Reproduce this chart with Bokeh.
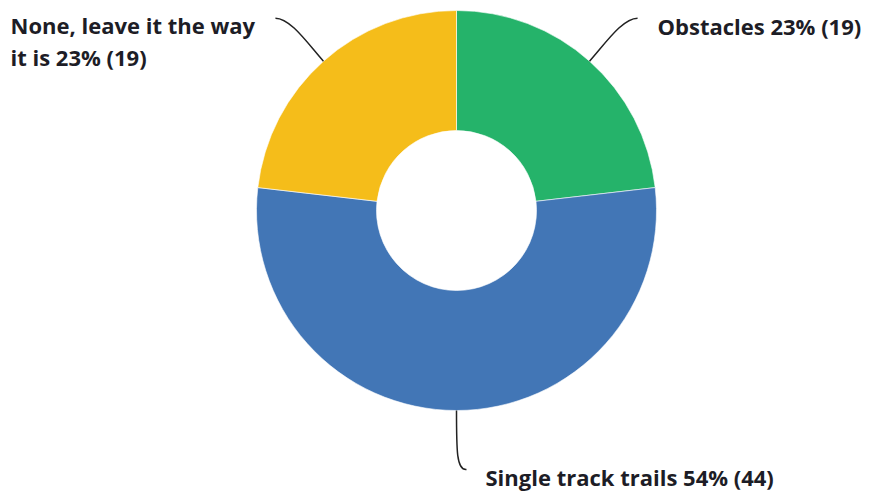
import math
from bokeh.plotting import figure
from bokeh.models import Range1d, ColumnDataSource
from bokeh.core.properties import value
from bokeh.embed import file_html
from bokeh.resources import INLINE

# ---- data ----
categories = ["Obstacles", "Single track trails", "None, leave it the way it is"]
counts = [19, 44, 19]
percents = [23, 54, 23]
colors = ["#25b36a", "#4276b6", "#f5bd1a"]
label_lines = [
    ["Obstacles 23% (19)"],
    ["Single track trails 54% (44)"],
    ["None, leave it the way", "it is 23% (19)"],
]

# ---- layout (1 data unit = 1 px; y measured upward from image bottom) ----
W, H = 873, 491
IMG_H = 491
cx, cy = 456, IMG_H - 210
r_out, r_in = 200, 80

p = figure(width=W, height=H, output_backend="svg", toolbar_location=None,
           x_range=Range1d(0, W), y_range=Range1d(IMG_H - H, IMG_H),
           x_axis_location=None, y_axis_location=None, min_border=0,
           background_fill_color="white", border_fill_color="white")
p.outline_line_color = None
p.grid.visible = False

total = sum(counts)
starts, ends, mids = [], [], []
acc = 0
for c in counts:
    a0 = acc / total * 2 * math.pi
    acc += c
    a1 = acc / total * 2 * math.pi
    starts.append(math.pi / 2 - a0)
    ends.append(math.pi / 2 - a1)
    mids.append((a0 + a1) / 2)  # clockwise from top

src = ColumnDataSource(dict(start=starts, end=ends, color=colors, cat=categories))
p.annular_wedge(x=cx, y=cy, inner_radius=r_in, outer_radius=r_out,
                start_angle="start", end_angle="end", direction="clock",
                fill_color="color", line_color="white", line_width=0.6, source=src)

font = value("Open Sans")
fs = "22px"
txt_color = "#1d1d26"

for i, m in enumerate(mids):
    ex = cx + r_out * math.sin(m)
    ey = cy + r_out * math.cos(m)
    if abs(math.sin(m)) < 0.2:  # bottom slice: go down, hook right
        x1, y1 = ex + 10, ey - 59
        c0 = (ex, ey - 40)
        c1 = (ex, y1 - 1)
        p.bezier(x0=[ex], y0=[ey], x1=[x1], y1=[y1], cx0=[c0[0]], cy0=[c0[1]],
                 cx1=[c1[0]], cy1=[c1[1]], line_color="#222222", line_width=1.5)
        p.text(x=[x1 + 19], y=[y1 - 7], text=label_lines[i], text_font=font,
               text_font_size=fs, text_font_style="bold", text_color=txt_color,
               text_baseline="middle", text_align="left")
    else:
        s = 1 if math.sin(m) > 0 else -1
        x1, y1 = ex + s * 48, ey + 43
        c0 = (ex + s * 16, ey + 18)
        c1 = (ex + s * 33, y1)
        p.bezier(x0=[ex], y0=[ey], x1=[x1], y1=[y1], cx0=[c0[0]], cy0=[c0[1]],
                 cx1=[c1[0]], cy1=[c1[1]], line_color="#222222", line_width=1.5)
        if s > 0:
            p.text(x=[x1 + 20], y=[y1 - 8], text=label_lines[i], text_font=font,
                   text_font_size=fs, text_font_style="bold", text_color=txt_color,
                   text_baseline="middle", text_align="left")
        else:
            n = len(label_lines[i])
            p.text(x=[10] * n, y=[y1 - 7 - 32 * k for k in range(n)],
                   text=label_lines[i], text_font=font,
                   text_font_size=fs, text_font_style="bold", text_color=txt_color,
                   text_baseline="middle", text_align="left")

open("out.html", "w").write(file_html(p, INLINE))
